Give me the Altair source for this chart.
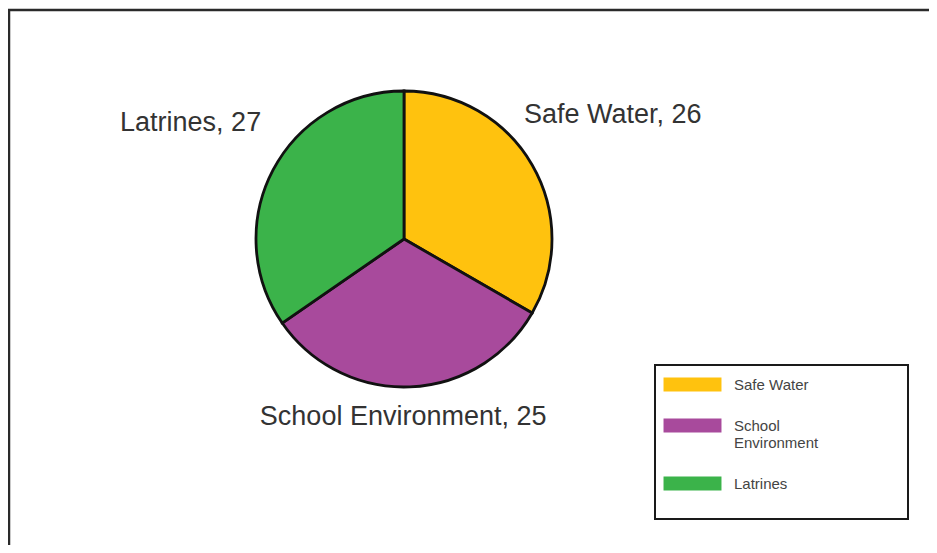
import altair as alt
import pandas as pd

categories = ["Safe Water", "School Environment", "Latrines"]
values = [26, 25, 27]
order_idx = [0, 1, 2]
colors = ["#FFC20E", "#A84A9C", "#3BB34A"]

df = pd.DataFrame({"category": categories, "value": values, "idx": order_idx})
one = pd.DataFrame({"a": [0]})

W, H = 790, 458
FONT = "Liberation Sans"

frame = alt.Chart(one).mark_rect(fillOpacity=0, stroke="#2a2a2a", strokeWidth=2.5).encode(
    x=alt.value(0), x2=alt.value(960), y=alt.value(0), y2=alt.value(600)
)

legend_box = alt.Chart(one).mark_rect(fill="white", stroke="#1a1a1a", strokeWidth=2).encode(
    x=alt.value(646), x2=alt.value(899), y=alt.value(355), y2=alt.value(509)
)

base = alt.Chart(df).encode(
    theta=alt.Theta("value:Q", stack=True),
    order=alt.Order("idx:Q"),
)

pie = base.mark_arc(outerRadius=148, stroke="#111111", strokeWidth=2.8).encode(
    color=alt.Color(
        "category:N",
        scale=alt.Scale(domain=categories, range=colors),
        sort=categories,
        legend=alt.Legend(
            title=None,
            orient="none",
            legendX=676,
            legendY=367,
            padding=0,
            symbolType="M-4.14,-1H4.14V1H-4.14Z",
            symbolSize=196,
            symbolStrokeWidth=0,
            symbolOpacity=1,
            symbolOffset=0,
            labelOffset=34,
            labelFont=FONT,
            labelFontSize=15,
            labelColor="#444444",
            rowPadding=25,
            labelLimit=200,
            labelExpr="datum.label == 'School Environment' ? ['School', 'Environment'] : datum.label",
        ),
    )
)

labels_top = base.transform_calculate(
    lab="datum.category == 'School Environment' ? '' : datum.category + ', ' + datum.value"
).mark_text(radius=241, dy=-4, font=FONT, fontSize=27, color="#333333").encode(text="lab:N")

labels_bottom = base.transform_calculate(
    lab="datum.category == 'School Environment' ? datum.category + ', ' + datum.value : ''"
).mark_text(radius=178, dx=-8, font=FONT, fontSize=27, color="#333333").encode(text="lab:N")

chart = alt.layer(frame, legend_box, pie, labels_top, labels_bottom).properties(
    width=W,
    height=H,
    autosize=alt.AutoSizeParams(type="none"),
    padding={"left": 1, "top": 2, "right": 130, "bottom": 77},
).configure_view(stroke=None)

chart.save("out.html", embed_options={"renderer": "svg", "actions": False})
